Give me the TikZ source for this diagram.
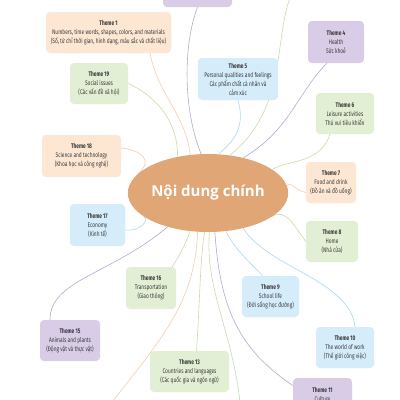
\documentclass[tikz,border=0pt]{standalone}
\usepackage{fontspec}
\usetikzlibrary{shapes.geometric}
\newfontfamily\boxfont[FakeStretch=0.72]{Fira Sans}
\newfontfamily\ctrfont{Open Sans}
\definecolor{peachF}{HTML}{FDE7D3}
\definecolor{greenF}{HTML}{E3EFD4}
\definecolor{blueF}{HTML}{D5ECFA}
\definecolor{purpleF}{HTML}{D8CCE7}
\definecolor{peachL}{HTML}{F3CFAA}
\definecolor{greenL}{HTML}{C9DDA9}
\definecolor{blueL}{HTML}{A9D8F0}
\definecolor{purpleL}{HTML}{B9A7D6}
\definecolor{ctrF}{HTML}{E0A676}
\definecolor{txt}{HTML}{3A3A3A}
\pgfdeclarelayer{bg}
\pgfsetlayers{bg,main}
\tikzset{
  box/.style={rounded corners=4pt, inner sep=0pt, align=center, text=txt,
    font=\boxfont\fontsize{6.7}{9}\selectfont},
  pbox/.style={box, fill=peachF},
  gbox/.style={box, fill=greenF},
  bbox/.style={box, fill=blueF},
  ubox/.style={box, fill=purpleF},
  ctr/.style={ellipse, fill=ctrF, minimum width=116pt, minimum height=78pt, inner sep=0pt,
    text=white, font=\ctrfont\bfseries\fontsize{15}{18}\selectfont},
  pl/.style={draw=peachL, line width=0.6pt},
  gl/.style={draw=greenL, line width=0.6pt},
  bl/.style={draw=blueL, line width=0.6pt},
  ul/.style={draw=purpleL, line width=0.6pt},
}
\newcommand{\ttl}[1]{\textbf{#1}}
\begin{document}
\begin{tikzpicture}[x=1pt,y=-1pt]
\useasboundingbox (0,0) rectangle (400,400);
\clip (0,0) rectangle (400,400);
\node[ctr] (c) at (208,193) {Nội dung chính};
\node[ubox, minimum width=69pt, minimum height=42pt] (tp) at (197.5,-14) {};
\node[pbox, minimum width=125pt, minimum height=41pt] (t1) at (108.5,32.5) {\ttl{Theme 1}\\Numbers, time words, shapes, colors, and materials\\(Số, từ chỉ thời gian, hình dạng, màu sắc và chất liệu)};
\node[gbox, minimum width=58pt, minimum height=41pt] (t19) at (99,83.5) {\ttl{Theme 19}\\Social issues\\(Các vấn đề xã hội)};
\node[ubox, minimum width=56pt, minimum height=42pt] (t4) at (336,42) {\ttl{Theme 4}\\Health\\Sức khoẻ};
\node[bbox, minimum width=80pt, minimum height=42pt] (t5) at (238,79) {\ttl{Theme 5}\\Personal qualities and feelings\\Các phẩm chất cá nhân và\\cảm xúc};
\node[gbox, minimum width=58pt, minimum height=41pt] (t6) at (345,113.5) {\ttl{Theme 6}\\Leisure activities\\Thú vui tiêu khiển};
\node[pbox, minimum width=79pt, minimum height=42pt] (t18) at (81.5,156) {\ttl{Theme 18}\\Science and technology\\(Khoa học và công nghệ)};
\node[bbox, minimum width=55pt, minimum height=42pt] (t17) at (97.5,225) {\ttl{Theme 17}\\Economy\\(Kinh tế)};
\node[pbox, minimum width=50pt, minimum height=41pt] (t7) at (331,182.5) {\ttl{Theme 7}\\Food and drink\\(Đồ ăn và đồ uống)};
\node[gbox, minimum width=52pt, minimum height=41pt] (t8) at (332,241.5) {\ttl{Theme 8}\\Home\\(Nhà cửa)};
\node[gbox, minimum width=50pt, minimum height=42pt] (t16) at (151,288) {\ttl{Theme 16}\\Transportation\\(Giao thông)};
\node[ubox, minimum width=60pt, minimum height=41pt] (t15) at (70,340.5) {\ttl{Theme 15}\\Animals and plants\\(Động vật và thực vật)};
\node[gbox, minimum width=79pt, minimum height=41pt] (t13) at (189.5,371.5) {\ttl{Theme 13}\\Countries and languages\\(Các quốc gia và ngôn ngữ)};
\node[bbox, minimum width=57pt, minimum height=41pt] (t9) at (270.5,296.5) {\ttl{Theme 9}\\School life\\(Đời sống học đường)};
\node[bbox, minimum width=58pt, minimum height=41pt] (t10) at (345,347.5) {\ttl{Theme 10}\\The world of work\\(Thế giới công việc)};
\node[ubox, minimum width=59pt, minimum height=41pt] (t11) at (322.5,398.5) {};
\node[box] (t11t) at (322.5,394.5) {\ttl{Theme 11}\\Culture};
\coordinate (topg) at (290,-2);
\coordinate (botp) at (112,402);
\coordinate (botg) at (240,402);
\begin{pgfonlayer}{bg}
\clip (0,0) rectangle (400,400);
\fill[white] (0,0) rectangle (400,400);
\draw[ul] (tp.south) .. controls (183,45) and (183,110) .. (c.100);
\draw[pl] (t1.south -| 150,0) .. controls (158,95) and (186,115) .. (c.115);
\draw[gl] (t19.east) .. controls (160,98) and (178,125) .. (c.130);
\draw[bl] (t5.south) .. controls (245,125) and (236,140) .. (c.75);
\draw[gl] (topg) .. controls (274,40) and (287,110) .. (c.60);
\draw[ul] (t4.south west) ++(19,0) .. controls (296,95) and (290,130) .. (c.45);
\draw[gl] (t6.south) ++(-15,0) .. controls (320,165) and (285,160) .. (c.20);
\draw[pl] (t7.west) ++(0,10) .. controls (294,190) and (290,180) .. (c.5);
\draw[gl] (t8.west) .. controls (294,225) and (285,208) .. (c.-20);
\draw[bl] (t9.north) ++(-8,0) .. controls (250,262) and (235,250) .. (c.-65);
\draw[bl] (t10.north) ++(10,0) .. controls (350,280) and (268,268) .. (c.-45);
\draw[ul] (t11.west) ++(0,-13) .. controls (240,350) and (220,310) .. (c.-80);
\draw[gl] (botg) .. controls (232,330) and (205,290) .. (c.-88);
\draw[gl] (t13.north) ++(7,0) .. controls (200,300) and (200,260) .. (c.-95);
\draw[pl] (botp) .. controls (165,335) and (195,300) .. (c.-105);
\draw[gl] (t16.north east) ++(-4,0) .. controls (180,255) and (185,245) .. (c.-115);
\draw[ul] (t15.north) ++(-20,0) .. controls (50,280) and (110,275) .. (c.-140);
\draw[bl] (t17.east) ++(0,5) .. controls (140,232) and (150,220) .. (c.-160);
\draw[pl] (t18.east) ++(0,-8) .. controls (140,150) and (155,160) .. (c.165);
\end{pgfonlayer}
\end{tikzpicture}
\end{document}
